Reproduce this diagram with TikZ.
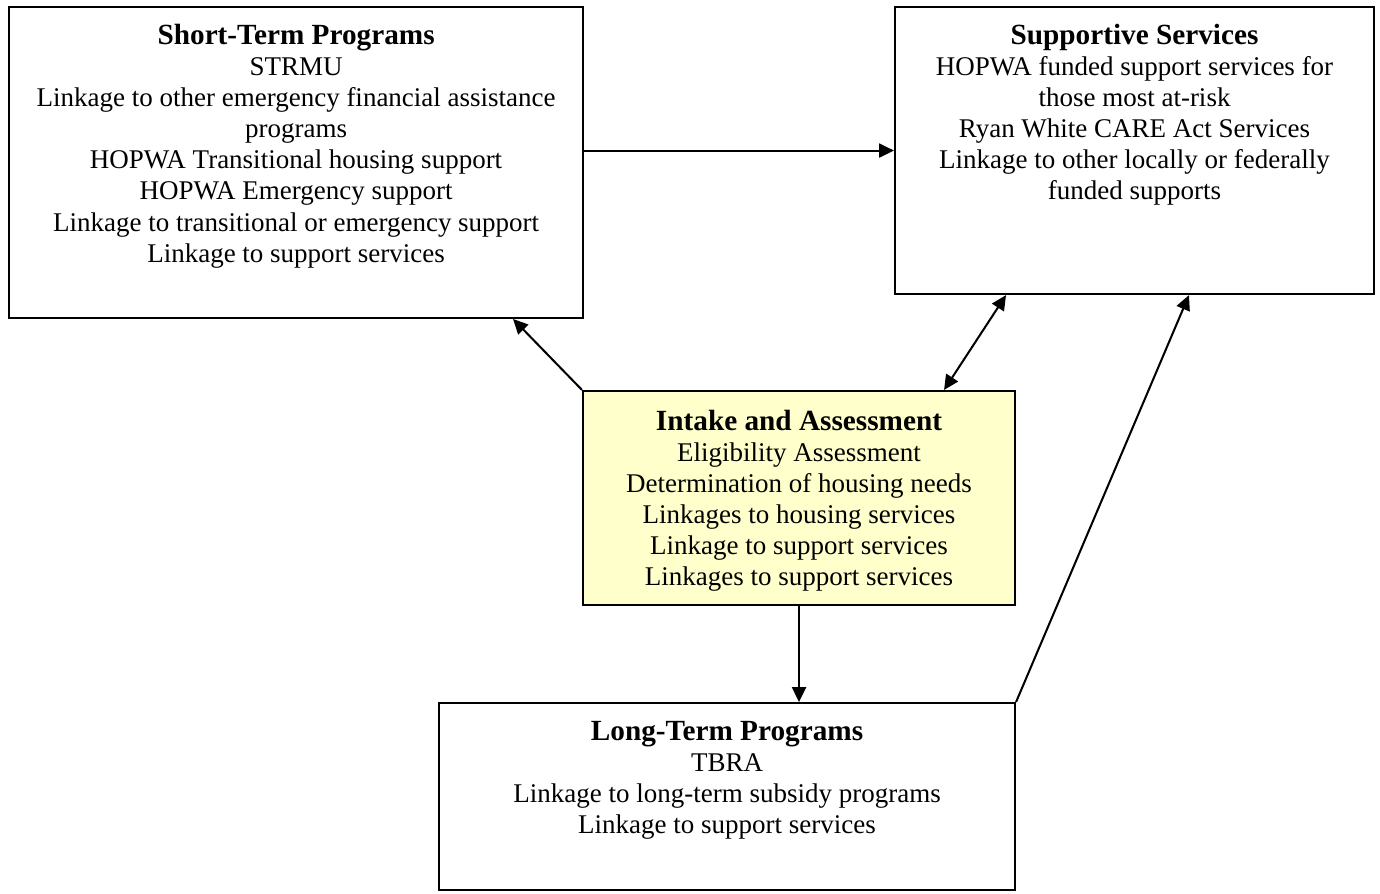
\documentclass[tikz,border=0pt]{standalone}
\usepackage{fontspec}
\setmainfont{Liberation Serif}
\usetikzlibrary{arrows.meta, positioning}
\definecolor{intakeYellow}{HTML}{FFFFCC}
\newcommand{\boxTitle}[1]{{\fontsize{13}{14.5}\selectfont\bfseries #1}}
\tikzstyle{fBox} = [rectangle, draw=black, line width=0.9pt, fill=white]
\tikzstyle{fIntake} = [fBox, fill=intakeYellow]
\tikzstyle{fText} = [inner sep=0pt, align=center, font=\fontsize{12}{13.8}\selectfont]
\tikzstyle{fArrow} = [line width=0.9pt, -{Triangle[length=6.6pt, width=6.2pt]}]

\begin{document}
\begin{tikzpicture}
    \useasboundingbox (0pt,0pt) rectangle (613.3pt,-397.3pt);
    \node (shortTerm) [fBox, minimum width=255.1pt, minimum height=138.2pt] at (131.6pt,-72.2pt) {};
    \node (supportive) [fBox, minimum width=212.9pt, minimum height=127.6pt] at (504.2pt,-66.9pt) {};
    \node (intake) [fIntake, minimum width=192pt, minimum height=95.1pt] at (355.1pt,-221.3pt) {};
    \node (longTerm) [fBox, minimum width=256pt, minimum height=83.1pt] at (323.1pt,-354pt) {};

    \node (shortTermText) [fText, below=8pt of shortTerm.north] {\boxTitle{Short-Term Programs}\\STRMU\\Linkage to other emergency financial assistance\\programs\\HOPWA Transitional housing support\\HOPWA Emergency support\\Linkage to transitional or emergency support\\Linkage to support services};
    \node (supportiveText) [fText, below=8pt of supportive.north] {\boxTitle{Supportive Services}\\HOPWA funded support services for\\those most at-risk\\Ryan White CARE Act Services\\Linkage to other locally or federally\\funded supports};
    \node (intakeText) [fText, below=8.6pt of intake.north] {\boxTitle{Intake and Assessment}\\Eligibility Assessment\\Determination of housing needs\\Linkages to housing services\\Linkage to support services\\Linkages to support services};
    \node (longTermText) [fText, below=8.3pt of longTerm.north] {\boxTitle{Long-Term Programs}\\TBRA\\Linkage to long-term subsidy programs\\Linkage to support services};

    \draw [fArrow] (supportive.west -| shortTerm.east) -- (supportive.west);
    \draw [fArrow] (intake.north west) -- ([xshift=-31.6pt]shortTerm.south east);
    \draw [fArrow, {Triangle[length=6.6pt, width=6.2pt]}-{Triangle[length=6.6pt, width=6.2pt]}] ([xshift=-32pt]intake.north east) -- ([xshift=49.8pt]supportive.south west);
    \draw [fArrow] (intake.south) -- (intake.south |- longTerm.north);
    \draw [fArrow] (longTerm.north east) -- ([xshift=-82.7pt]supportive.south east);
\end{tikzpicture}
\end{document}
